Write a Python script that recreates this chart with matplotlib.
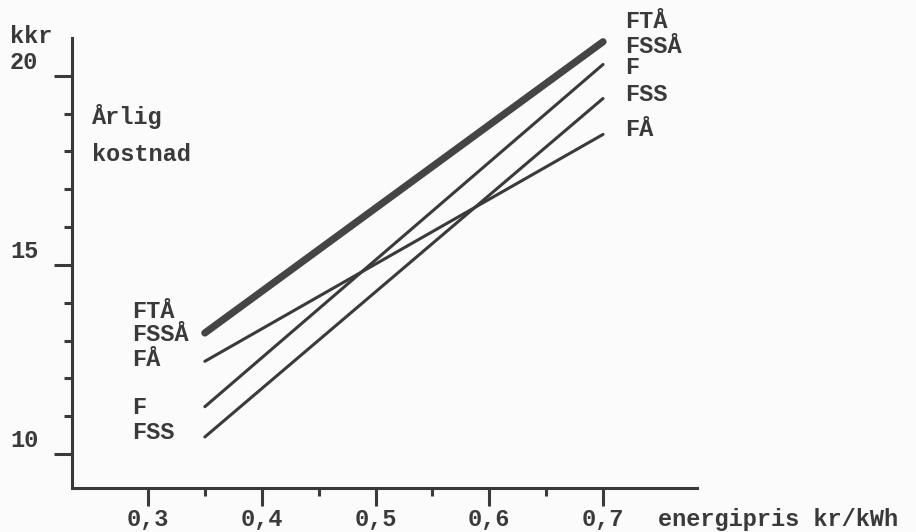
import matplotlib.pyplot as plt

# energipris kr/kWh
x = [0.35, 0.7]
# årlig kostnad, kkr
ftaa_fssaa = [13.2, 20.9]
f = [11.25, 20.3]
fss = [10.45, 19.4]
faa = [12.45, 18.45]

left_labels = ["FTÅ", "FSSÅ", "FÅ", "F", "FSS"]
left_y = [13.76, 13.15, 12.49, 11.24, 10.56]
right_labels = ["FTÅ", "FSSÅ", "F", "FSS", "FÅ"]
right_y = [21.43, 20.77, 20.21, 19.50, 18.57]

xticks = [0.3, 0.4, 0.5, 0.6, 0.7]
xticklabels = ["0,3", "0,4", "0,5", "0,6", "0,7"]
yticks = [10, 15, 20]
yticklabels = ["10", "15", "20"]


def main():
    ink = "#3a3a3a"
    font = dict(family="Liberation Mono", weight="bold", size=17, color=ink)

    fig = plt.figure(figsize=(9.16, 5.32), dpi=100)
    fig.patch.set_facecolor("#fbfbfb")
    ax = fig.add_axes([0.0786, 0.0827, 0.6823, 0.8459])
    ax.set_facecolor("none")

    ax.plot(x, ftaa_fssaa, color="#454545", lw=5.2, solid_capstyle="round")
    ax.plot(x, f, color=ink, lw=2.2, solid_capstyle="round")
    ax.plot(x, fss, color=ink, lw=2.2, solid_capstyle="round")
    ax.plot(x, faa, color=ink, lw=2.2, solid_capstyle="round")

    ax.set_xlim(0.2332, 0.7826)
    ax.set_ylim(9.10, 21.0)

    for s in ["top", "right"]:
        ax.spines[s].set_visible(False)
    for s in ["left", "bottom"]:
        ax.spines[s].set_linewidth(2.2)
        ax.spines[s].set_color(ink)

    ax.set_xticks(xticks)
    ax.set_xticks([0.35, 0.45, 0.55, 0.65], minor=True)
    ax.set_yticks(yticks)
    ax.set_yticks([11, 12, 13, 14, 16, 17, 18, 19], minor=True)
    ax.set_xticklabels([])
    ax.set_yticklabels([])
    ax.tick_params(which="major", direction="out", length=13, width=2.2, color=ink)
    ax.tick_params(which="minor", direction="out", length=6, width=2.2, color=ink)

    xt = ax.get_xaxis_transform()
    yt = ax.get_yaxis_transform()
    for v, lab in zip(xticks, xticklabels):
        ax.text(v, -0.071, lab, transform=xt, ha="center", va="center",
                clip_on=False, **font)
    ax.text(0.7483, -0.071, "energipris kr/kWh", transform=xt, ha="left",
            va="center", clip_on=False, **font)
    for v, lab in zip(yticks, yticklabels):
        ax.text(-0.054, v + 0.35, lab, transform=yt, ha="right", va="center",
                clip_on=False, **font)
    ax.text(-0.0992, 21.03, "kkr", transform=yt, ha="left", va="center",
            clip_on=False, **font)
    ax.text(0.032, 18.92, "Årlig", transform=yt, ha="left", va="center", **font)
    ax.text(0.032, 17.91, "kostnad", transform=yt, ha="left", va="center", **font)

    for lab, v in zip(left_labels, left_y):
        ax.text(0.2859, v, lab, ha="left", va="center", clip_on=False, **font)
    for lab, v in zip(right_labels, right_y):
        ax.text(0.7193, v, lab, ha="left", va="center", clip_on=False, **font)

    fig.savefig("out.png", dpi=100, facecolor=fig.get_facecolor())


if __name__ == "__main__":
    main()
